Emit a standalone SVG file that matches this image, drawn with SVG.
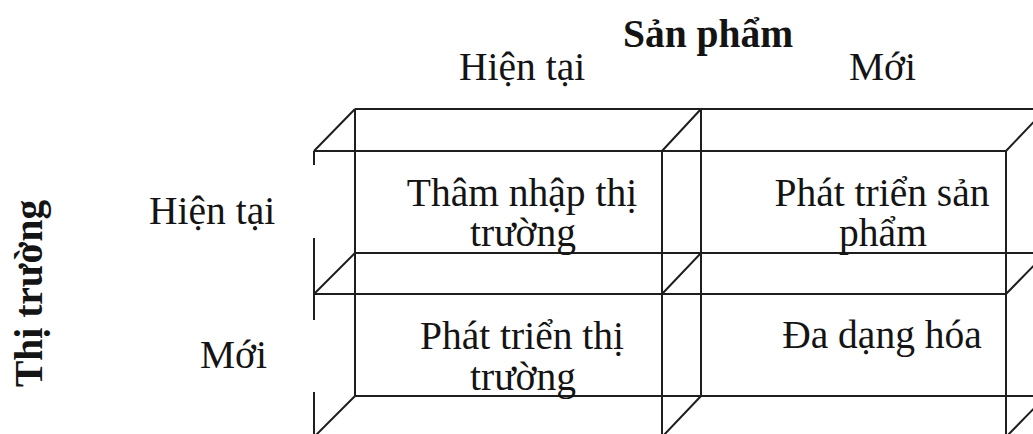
<svg xmlns="http://www.w3.org/2000/svg" width="1033" height="434" viewBox="0 0 1033 434">
  <style>
    .ln { stroke: #1e1e1e; stroke-width: 2; fill: none; stroke-linecap: butt; }
    .t { font-family: "Liberation Serif", "Times New Roman", serif; font-size: 39.5px; fill: #141414; }
    .b { font-weight: bold; }
    .c { text-anchor: middle; }
  </style>
  <rect x="0" y="0" width="1033" height="434" fill="#ffffff"/>

  <g id="grid">
    <!-- back layer -->
    <path class="ln" d="M355 109 H1033 M355 253 H1033 M355 396 H1033"/>
    <path class="ln" d="M355 109 V396 M701 109 V396"/>
    <!-- front layer -->
    <path class="ln" d="M314 151 H1006 M314 294 H1006"/>
    <path class="ln" d="M314 151 V165 M314 238 V320 M314 392 V434"/>
    <path class="ln" d="M662 151 V434 M1006 151 V434"/>
    <!-- depth edges -->
    <path class="ln" d="M314 151 L355 109 M662 151 L701 109 M1006 151 L1046 109"/>
    <path class="ln" d="M314 294 L355 253 M662 294 L701 253 M1006 294 L1046 253"/>
    <path class="ln" d="M314 437 L355 396 M662 437 L701 396 M1006 437 L1046 396"/>
  </g>

  <g id="axis-product">
    <text class="t b" x="623" y="47">Sản phẩm</text>
    <text class="t" x="459" y="80">Hiện tại</text>
    <text class="t" x="849" y="80">Mới</text>
  </g>

  <g id="axis-market">
    <text class="t b" transform="translate(42,387) rotate(-90)">Thị trường</text>
    <text class="t" x="149" y="224">Hiện tại</text>
    <text class="t" x="200" y="368">Mới</text>
  </g>

  <g id="cell-penetration">
    <text class="t c" x="522" y="206">Thâm nhập thị</text>
    <text class="t c" x="523" y="246">trường</text>
  </g>
  <g id="cell-product-dev">
    <text class="t c" x="882" y="206">Phát triển sản</text>
    <text class="t c" x="883" y="246">phẩm</text>
  </g>
  <g id="cell-market-dev">
    <text class="t c" x="522" y="349">Phát triển thị</text>
    <text class="t c" x="523" y="390">trường</text>
  </g>
  <g id="cell-diversification">
    <text class="t c" x="882" y="348">Đa dạng hóa</text>
  </g>
</svg>
